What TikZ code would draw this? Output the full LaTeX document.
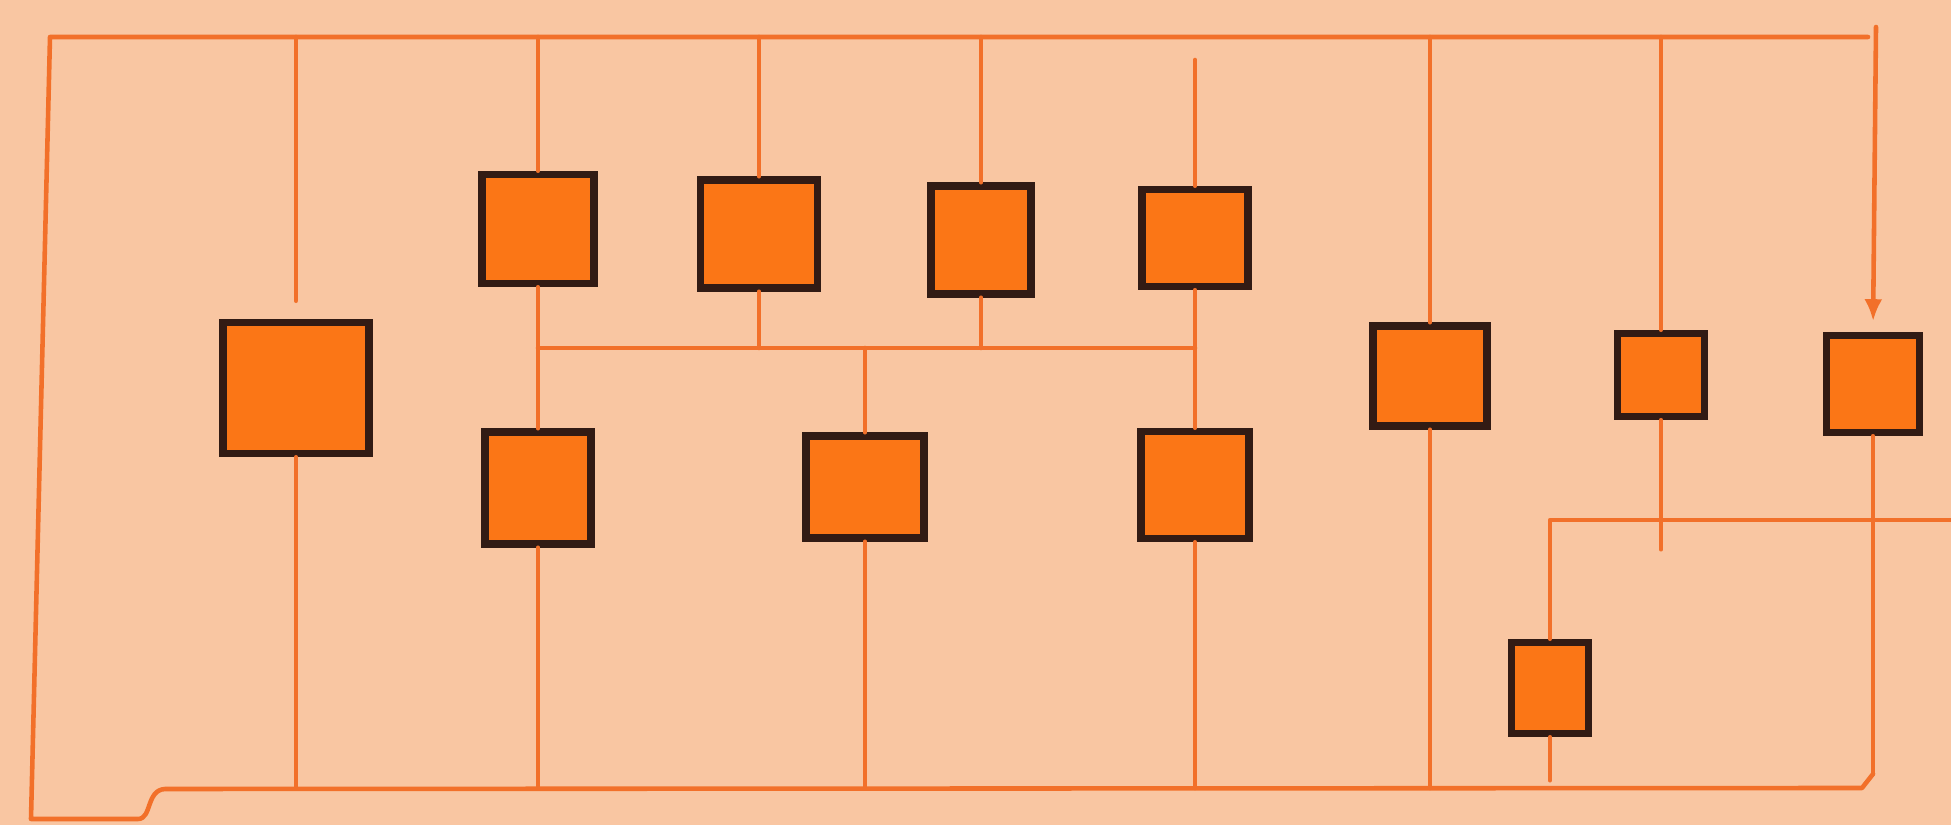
\documentclass[tikz,border=0pt]{standalone}
\usetikzlibrary{arrows.meta,positioning}
\definecolor{paperPeach}{RGB}{249,198,162}
\definecolor{wireOrange}{RGB}{242,112,42}
\definecolor{blockFill}{RGB}{251,118,22}
\definecolor{blockInk}{RGB}{50,27,20}
\tikzset{
  block/.style={draw=blockInk, fill=blockFill, line width=2.1pt, inner sep=0pt, minimum width=1.1cm, minimum height=1.05cm},
  bigblock/.style={block, minimum width=1.46cm, minimum height=1.31cm},
  smallblock/.style={block, minimum width=0.87cm, minimum height=0.85cm},
  wire/.style={draw=wireOrange, line width=1.3pt, line cap=round, line join=round},
  arrowwire/.style={wire, -{Latex[length=2.2mm, width=1.8mm]}}
}

\begin{document}
\begin{tikzpicture}[x=0.01cm, y=-0.01cm]
        \fill[paperPeach] (0,0) rectangle (1951,825);
        \useasboundingbox (0,0) rectangle (1951,825);
        % bus levels
        \coordinate (busT) at (0,37);
        \coordinate (busTgap) at (0,60);
        \coordinate (busM) at (0,348);
        \coordinate (busB) at (0,788);
        \coordinate (topL) at (50,37);
        \coordinate (topR) at (1868,37);
        \coordinate (botL) at (31,819);
        \coordinate (botR) at (1873,774);
        \coordinate (feed) at (1876,27);
        \coordinate (sideR) at (1951,520);
        % blocks
        \node[bigblock] (big) at (296,388) {};
        \node[block, minimum width=1.12cm, minimum height=1.09cm] (up1) at (538,229) {};
        \node[block, minimum width=1.17cm, minimum height=1.08cm] (up2) at (759,234) {};
        \node[block, minimum width=1.0cm, minimum height=1.08cm] (up3) at (981,240) {};
        \node[block, minimum width=1.06cm, minimum height=0.97cm] (up4) at (1195,238) {};
        \node[block, minimum width=1.06cm, minimum height=1.12cm] (lo1) at (538,488) {};
        \node[block, minimum width=1.18cm, minimum height=1.02cm] (lo2) at (865,487) {};
        \node[block, minimum width=1.08cm, minimum height=1.07cm] (lo3) at (1195,485) {};
        \node[block, minimum width=1.14cm, minimum height=1.0cm] (rt1) at (1430,376) {};
        \node[smallblock, minimum height=0.83cm] (rt2) at (1661,375) {};
        \node[block, minimum width=0.93cm, minimum height=0.97cm] (rt3) at (1873,384) {};
        \node[smallblock, minimum width=0.77cm, minimum height=0.91cm] (sub) at (1550,688) {};
        % outer frame
        \draw[wire] (topR) -- (topL) -- (botL) -- (138,819)
          .. controls (152,819) and (146,790) .. (165,789) -- (1862,788) -- (botR);
        \draw[arrowwire, shorten >=3pt] (feed) -- (rt3.north);
        \draw[wire] (rt3.south) -- (botR);
        % top bus drops
        \draw[wire] (big.north |- busT) -- ([yshift=0.18cm]big.north);
        \draw[wire] (up1.north |- busT) -- (up1.north);
        \draw[wire] (up2.north |- busT) -- (up2.north);
        \draw[wire] (up3.north |- busT) -- (up3.north);
        \draw[wire] (up4.north |- busTgap) -- (up4.north);
        \draw[wire] (rt1.north |- busT) -- (rt1.north);
        \draw[wire] (rt2.north |- busT) -- (rt2.north);
        % middle bus
        \draw[wire] (up1.south) -- (lo1.north);
        \draw[wire] (up2.south) -- (up2.south |- busM);
        \draw[wire] (up3.south) -- (up3.south |- busM);
        \draw[wire] (up4.south) -- (lo3.north);
        \draw[wire] (up1.south |- busM) -- (up4.south |- busM);
        \draw[wire] (lo2.north |- busM) -- (lo2.north);
        % bottom bus rises
        \draw[wire] (big.south) -- (big.south |- busB);
        \draw[wire] (lo1.south) -- (lo1.south |- busB);
        \draw[wire] (lo2.south) -- (lo2.south |- busB);
        \draw[wire] (lo3.south) -- (lo3.south |- busB);
        \draw[wire] (rt1.south) -- (rt1.south |- busB);
        \draw[wire] (rt2.south) -- ([yshift=-1.29cm]rt2.south);
        % side branch
        \draw[wire] (sideR) -- (sub.north |- sideR) -- (sub.north);
        \draw[wire] (sub.south) -- ([yshift=-0.43cm]sub.south);
      \end{tikzpicture}
\end{document}
